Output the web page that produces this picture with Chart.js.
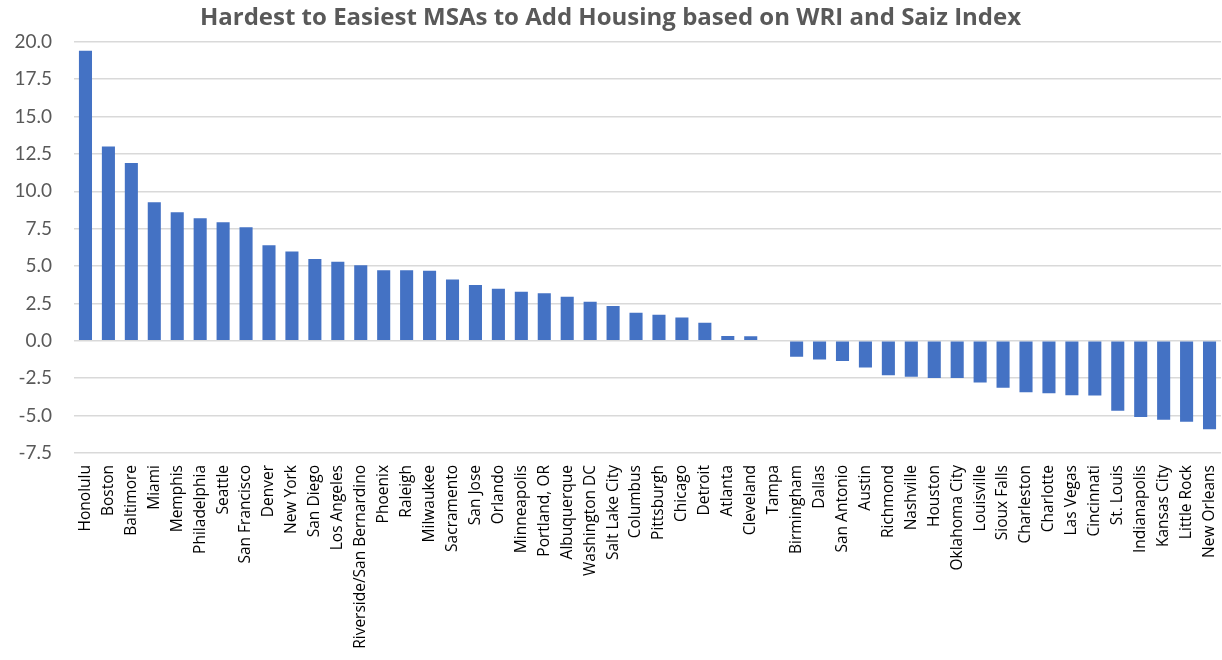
<!DOCTYPE html>
<html>
<head>
<meta charset="utf-8">
<script src="https://cdn.jsdelivr.net/npm/chart.js@4/dist/chart.umd.min.js"></script>
<style>
  html, body { margin: 0; padding: 0; background: #fff; }
  #wrap { width: 1222px; height: 660px; }
</style>
</head>
<body>
<div id="wrap"><canvas id="msaChart"></canvas></div>
<script>
const ciudades = ["Honolulu", "Boston", "Baltimore", "Miami", "Memphis", "Philadelphia", "Seattle",
  "San Francisco", "Denver", "New York", "San Diego", "Los Angeles", "Riverside/San Bernardino",
  "Phoenix", "Raleigh", "Milwaukee", "Sacramento", "San Jose", "Orlando", "Minneapolis",
  "Portland, OR", "Albuquerque", "Washington DC", "Salt Lake City", "Columbus", "Pittsburgh",
  "Chicago", "Detroit", "Atlanta", "Cleveland", "Tampa", "Birmingham", "Dallas", "San Antonio",
  "Austin", "Richmond", "Nashville", "Houston", "Oklahoma City", "Louisville", "Sioux Falls",
  "Charleston", "Charlotte", "Las Vegas", "Cincinnati", "St. Louis", "Indianapolis",
  "Kansas City", "Little Rock", "New Orleans"];

const indice = [19.4, 13.0, 11.9, 9.27, 8.6, 8.2, 7.93, 7.6, 6.4, 5.98, 5.47, 5.29, 5.05,
  4.73, 4.73, 4.69, 4.1, 3.73, 3.49, 3.29, 3.18, 2.95, 2.62, 2.33, 1.88, 1.75, 1.56, 1.21,
  0.33, 0.3, 0, -1.06, -1.25, -1.34, -1.79, -2.3, -2.4, -2.48, -2.48, -2.79, -3.13,
  -3.44, -3.51, -3.64, -3.66, -4.67, -5.1, -5.28, -5.41, -5.92];

const yMin = -7.5;
const yMax = 20;
const yPaso = 2.5;

const titulo = 'Hardest to Easiest MSAs to Add Housing based on WRI and Saiz Index';

const ctx = document.getElementById('msaChart');
new Chart(ctx, {
  type: 'bar',
  data: {
    labels: ciudades,
    datasets: [{
      label: 'Index',
      data: indice,
      backgroundColor: '#4472C4',
      barPercentage: 0.57,
      categoryPercentage: 1.0
    }]
  },
  options: {
    responsive: true,
    maintainAspectRatio: false,
    animation: false,
    layout: { padding: { left: 0, right: 1, top: 4, bottom: 0 } },
    plugins: {
      legend: { display: false },
      tooltip: { enabled: false },
      title: {
        display: true,
        text: titulo,
        color: '#595959',
        font: { family: 'Open Sans', size: 24, weight: 'bold' },
        padding: { top: 0, bottom: 9 }
      }
    },
    scales: {
      x: {
        grid: { display: false, drawTicks: false },
        border: { display: false },
        ticks: {
          autoSkip: false,
          minRotation: 90,
          maxRotation: 90,
          padding: 12,
          color: '#000000',
          font: { family: 'Open Sans', size: 15.5 }
        },
        afterFit: (scale) => {
          scale.height = 207;
          scale.paddingLeft = 0;
          scale.paddingRight = 0;
        }
      },
      y: {
        min: yMin,
        max: yMax,
        grid: { color: '#d9d9d9', lineWidth: 1.5, drawTicks: false },
        border: { display: false },
        ticks: {
          stepSize: yPaso,
          padding: 22,
          color: '#595959',
          font: { family: 'Lato', size: 19 },
          callback: (v) => Number(v).toFixed(1)
        },
        afterFit: (scale) => { scale.width = 74; }
      }
    }
  }
});
</script>
</body>
</html>
